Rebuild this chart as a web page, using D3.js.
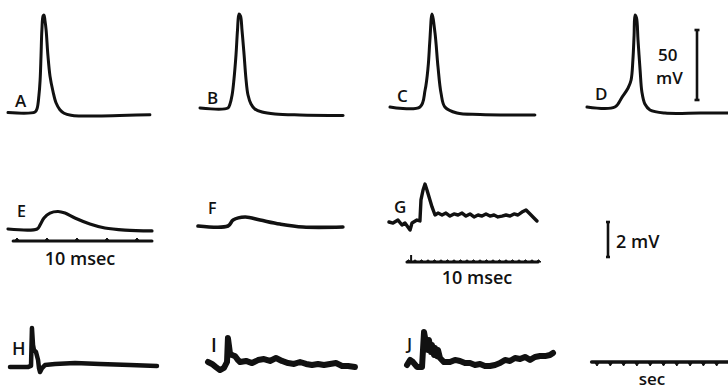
<!DOCTYPE html>
<html>
<head>
<meta charset="utf-8">
<script src="https://cdn.jsdelivr.net/npm/d3@7"></script>
<style>
  body { margin: 0; background: #fff; }
  svg { display: block; }
  text { font-family: "Open Sans", Lato, sans-serif; font-weight: 600; fill: #111; }
</style>
</head>
<body>
<svg id="fig" width="728" height="390"></svg>
<script>
// Traces: [time, potential] pairs. Rows A-D, E-G in msec / mV, H-J in sec / mV.
const traceA = [[0,0],[9,0.4],[9.7,2.9],[10.3,12],[10.7,23],[11,40],[11.3,59],[11.7,69],[12,69.6],[12.3,66],[12.7,59],[13.3,41],[14,26],[15,15],[16,7],[17.3,2],[18.7,-0.5],[21,-2],[24,-2.5],[30,-2.5],[40,-2],[47.3,-1.6]];
const traceB = [[0,0],[9.3,0],[10,2.9],[10.7,9.3],[11.3,20],[12,37.9],[12.5,55.7],[13,67.1],[13.5,65.7],[14,55.7],[14.7,37.9],[15.3,21.4],[16,9.3],[17,2.9],[18.3,-0.7],[20.7,-2.9],[25,-4.3],[33.3,-5],[47.7,-5.4]];
const traceC = [[0,0],[10,0],[11.7,12.1],[12.7,28.6],[13.3,47.9],[14,66.4],[15,52.9],[16,28.6],[17,10],[18.3,0],[22.3,-4.3],[30,-5.3],[48.3,-5.7]];
const traceD = [[0,0],[9.3,0],[11.7,7.1],[13.7,13.6],[14.7,19.3],[15.3,33.6],[15.7,51.4],[16,65.7],[16.5,63.6],[17,47.9],[17.7,26.4],[18.3,10.7],[19.3,2.1],[21,-2.1],[26,-4.3],[37.7,-4.3],[47,-4.3]];
const traceE = [[0,0],[9.7,0],[10.7,0.23],[12,0.63],[14,0.91],[16.7,1.0],[19,0.91],[22.3,0.63],[27.3,0.29],[32.3,0.06],[39,-0.06],[48,-0.11]];
const traceF = [[0,0],[10,0],[11.7,0.34],[15.7,0.51],[20.7,0.34],[27.3,0.11],[35,-0.06],[48.3,-0.06]];
const traceG = [[0,0],[0.31,-0.06],[0.69,0.11],[1,-0.17],[1.23,-0.06],[1.62,-0.46],[1.77,-0.06],[2.15,0.11],[2.38,0.06],[2.46,1.26],[2.62,1.83],[2.77,2.17],[2.92,1.83],[3.31,0.86],[3.54,0.4],[3.77,0.51],[4.08,0.4],[4.38,0.51],[4.69,0.34],[5,0.46],[5.31,0.4],[5.62,0.51],[5.92,0.34],[6.23,0.46],[6.54,0.29],[6.85,0.4],[7.15,0.34],[7.46,0.46],[7.77,0.34],[8.08,0.4],[8.38,0.29],[8.69,0.34],[9,0.4],[9.31,0.34],[9.62,0.46],[9.92,0.4],[10.23,0.57],[10.54,0.69],[10.85,0.46],[11.15,0.23],[11.38,0.06]];
const traceH = [[0,0],[1.35,0],[1.58,0.06],[1.65,2.23],[1.73,1.26],[1.8,0.97],[1.95,0.86],[2.11,0.4],[2.18,-0.06],[2.26,-0.29],[2.41,-0.06],[2.63,0.11],[3.38,0.17],[4.89,0.23],[6.77,0.17],[9.02,0.11],[11.05,0.06]];
const traceI = [[0,0],[0.3,-0.11],[0.6,-0.29],[0.9,-0.46],[1.2,-0.34],[1.43,0],[1.5,1.37],[1.65,0.51],[1.8,0.4],[2.03,0.34],[2.26,0.11],[2.41,0],[2.86,0.06],[3.31,-0.06],[3.76,0.11],[4.21,0.17],[4.66,0.06],[5.11,0.23],[5.56,0.06],[6.02,-0.06],[6.47,-0.11],[6.92,0],[7.37,-0.11],[7.82,-0.17],[8.27,-0.11],[8.72,-0.17],[9.17,-0.11],[9.62,-0.06],[10.08,-0.23],[10.53,-0.23],[11.05,-0.29]];
const traceJ = [[0,0],[0.23,0.29],[0.45,0.17],[0.75,-0.11],[1.13,-0.11],[1.28,1.89],[1.43,1.26],[1.58,0.86],[1.65,1.43],[1.8,0.74],[1.88,1.14],[2.03,0.57],[2.11,0.97],[2.26,0.51],[2.33,0.86],[2.48,0.4],[2.78,0.17],[3.23,0.17],[3.61,0.29],[3.98,0.23],[4.36,0.11],[4.74,0.11],[5.11,0],[5.49,0.06],[5.86,-0.06],[6.24,-0.06],[6.62,0],[6.99,0.11],[7.37,0.29],[7.74,0.23],[8.12,0.4],[8.5,0.34],[8.87,0.46],[9.25,0.29],[9.62,0.46],[10,0.51],[10.38,0.51],[10.75,0.57],[10.98,0.69]];

// Time markers
const ticksE = [3, 13, 23, 33, 43];
const ticksG = [1.5, 2, 2.5, 3, 3.5, 4, 4.5, 5, 5.5, 6, 6.5, 7, 7.5, 8, 8.5, 9, 9.5, 10, 10.5, 11, 11.5];
const ticksSec = [0, 1, 2, 3, 4, 5, 6, 7, 8, 9];

// Calibrations
const calibrations = [50, 2];
const panelLabels = ["A", "B", "C", "D", "E", "F", "G", "H", "I", "J"];
const timeLabels = ["10 msec", "10 msec", "sec"];

const svg = d3.select("#fig");
const ink = "#111";

// x0/y0: where t=0, v=0 lands; kx px per time unit, ky px per mV
const panels = [
  { data: traceA, x0: 8,   y0: 112.5, kx: 3,    ky: 1.4,  sw: 3,   smooth: true,  lx: 15,  ly: 107, fs: 17 },
  { data: traceB, x0: 200, y0: 108,   kx: 3,    ky: 1.4,  sw: 3,   smooth: true,  lx: 207, ly: 104, fs: 17 },
  { data: traceC, x0: 390, y0: 107,   kx: 3,    ky: 1.4,  sw: 3,   smooth: true,  lx: 397, ly: 102, fs: 17 },
  { data: traceD, x0: 587, y0: 107,   kx: 3,    ky: 1.4,  sw: 3,   smooth: true,  lx: 595, ly: 100, fs: 17 },
  { data: traceE, x0: 8,   y0: 229,   kx: 3,    ky: 17.5, sw: 3.2, smooth: true,  lx: 17,  ly: 217, fs: 16 },
  { data: traceF, x0: 198, y0: 226,   kx: 3,    ky: 17.5, sw: 3.6, smooth: true,  lx: 208, ly: 214, fs: 16 },
  { data: traceG, x0: 389, y0: 222,   kx: 13,   ky: 17.5, sw: 3.4, smooth: false, lx: 394, ly: 213, fs: 17 },
  { data: traceH, x0: 10,  y0: 367,   kx: 13.3, ky: 17.5, sw: 4.5, smooth: false, lx: 12,  ly: 355, fs: 18 },
  { data: traceI, x0: 208, y0: 362,   kx: 13.3, ky: 17.5, sw: 6,   smooth: false, lx: 211, ly: 352, fs: 19 },
  { data: traceJ, x0: 407, y0: 365,   kx: 13.3, ky: 17.5, sw: 6,   smooth: false, lx: 407, ly: 350, fs: 17 }
];

panels.forEach((p, i) => {
  p.x = d3.scaleLinear().domain([0, 1]).range([p.x0, p.x0 + p.kx]);
  p.y = d3.scaleLinear().domain([0, 1]).range([p.y0, p.y0 - p.ky]);
  const line = d3.line()
    .x(d => p.x(d[0]))
    .y(d => p.y(d[1]))
    .curve(p.smooth ? d3.curveCatmullRom.alpha(0.5) : d3.curveLinear);
  svg.append("path")
    .datum(p.data)
    .attr("d", line)
    .attr("fill", "none")
    .attr("stroke", ink)
    .attr("stroke-width", p.sw)
    .attr("stroke-linecap", "round")
    .attr("stroke-linejoin", "round");
  svg.append("text").attr("x", p.lx).attr("y", p.ly).attr("font-size", p.fs).text(panelLabels[i]);
});

// time markers
function marker(x, yPix, span, ticks, dir, h, sw) {
  svg.append("line")
    .attr("x1", x(span[0])).attr("x2", x(span[1]))
    .attr("y1", yPix).attr("y2", yPix)
    .attr("stroke", ink).attr("stroke-width", sw).attr("stroke-linecap", "round");
  svg.append("g").selectAll("path")
    .data(ticks)
    .join("path")
    .attr("d", t => `M${x(t) - 2.5},${yPix} L${x(t)},${yPix + dir * h} L${x(t) + 2.5},${yPix} Z`)
    .attr("fill", ink).attr("stroke", ink).attr("stroke-width", 1).attr("stroke-linejoin", "round");
}

const pE = panels[4], pG = panels[6];
marker(pE.x, pE.y0 + 12, [1.7, 48], ticksE, -1, 3, 3);
marker(pG.x, pG.y0 + 40, [1.38, 11.46], ticksG, -1, 2.2, 3);
// start spike of G marker
svg.append("line")
  .attr("x1", pG.x(1.7)).attr("x2", pG.x(1.7))
  .attr("y1", pG.y0 + 40).attr("y2", pG.y0 + 33)
  .attr("stroke", ink).attr("stroke-width", 2);

const xSec = d3.scaleLinear().domain([0, 1]).range([597, 610.3]);
marker(xSec, 362, [-0.4, 9.85], ticksSec, 1, 4, 3.6);

// time labels
svg.append("text").attr("x", 80).attr("y", 265).attr("font-size", 18).attr("text-anchor", "middle").text(timeLabels[0]);
svg.append("text").attr("x", 477).attr("y", 284).attr("font-size", 18).attr("text-anchor", "middle").text(timeLabels[1]);
svg.append("text").attr("x", 652).attr("y", 385).attr("font-size", 17).attr("text-anchor", "middle").text(timeLabels[2]);

// calibration bars
function calBar(xPix, y, v0, v1, cap) {
  const g = svg.append("g").attr("stroke", ink).attr("stroke-width", 2.6);
  g.append("line").attr("x1", xPix).attr("x2", xPix).attr("y1", y(v0)).attr("y2", y(v1));
  [v0, v1].forEach(v => g.append("line")
    .attr("x1", xPix - cap).attr("x2", xPix + cap).attr("y1", y(v)).attr("y2", y(v)));
}
const pD = panels[3];
calBar(697, pD.y, 5, 5 + calibrations[0], 2.5);
svg.append("text").attr("x", 658).attr("y", 61).attr("font-size", 17).text(calibrations[0]);
svg.append("text").attr("x", 656).attr("y", 84).attr("font-size", 17).text("mV");

calBar(608, pG.y, -calibrations[1], 0, 2);
svg.append("text").attr("x", 616).attr("y", 248).attr("font-size", 18).text(calibrations[1] + " mV");
</script>
</body>
</html>
